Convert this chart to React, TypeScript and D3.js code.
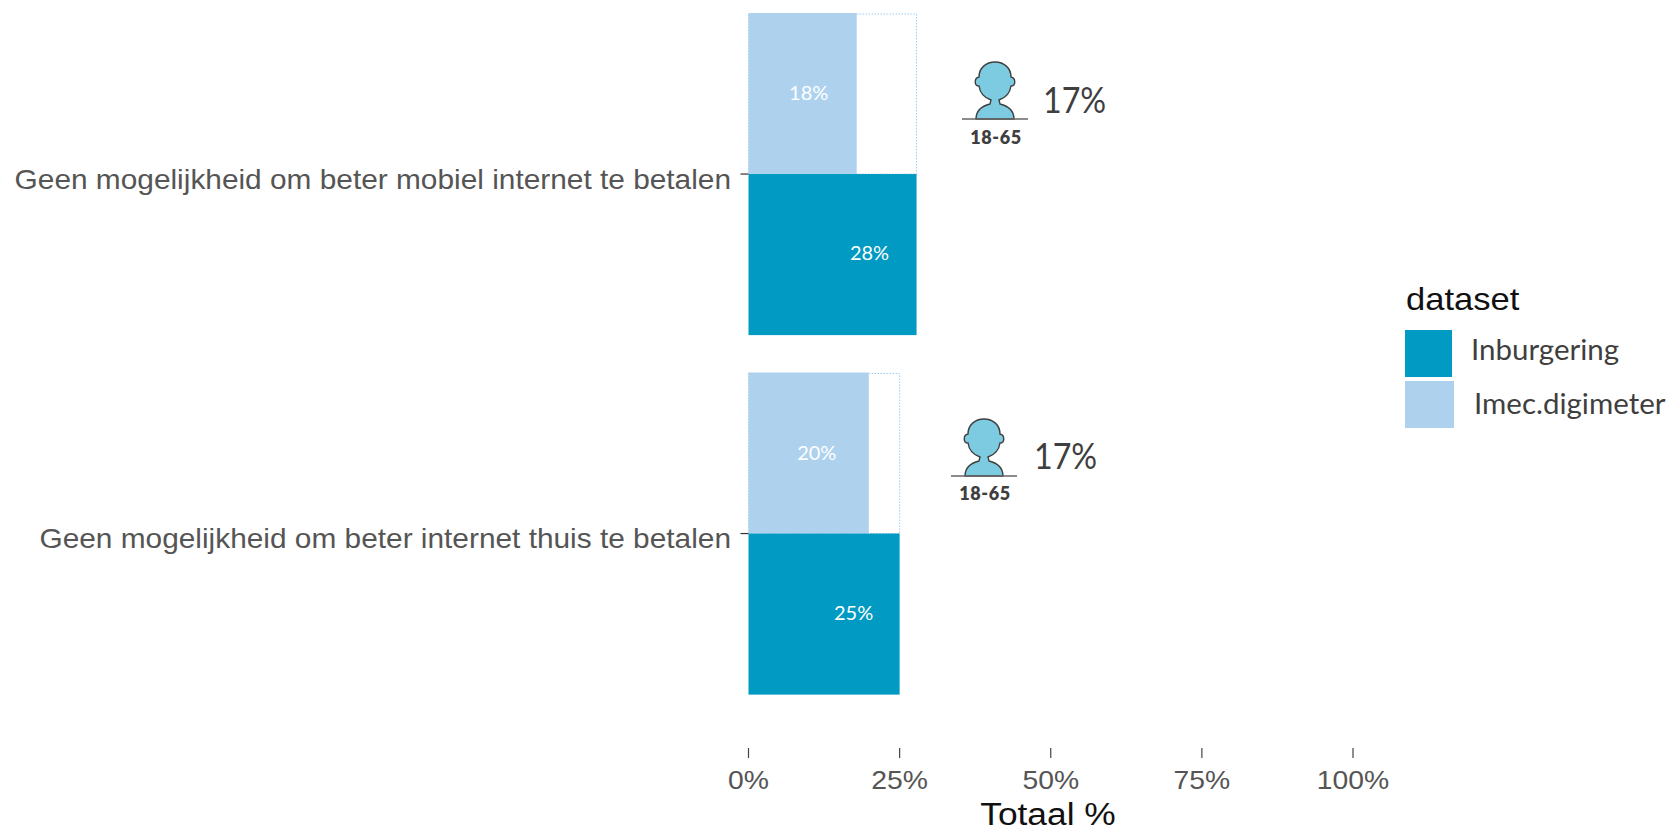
import React from "react";
import * as d3 from "d3";

const categories = [
  "Geen mogelijkheid om beter mobiel internet te betalen",
  "Geen mogelijkheid om beter internet thuis te betalen",
];
const inburgering = [27.8, 25];
const imecDigimeter = [17.9, 19.9];
const inburgeringLabels = ["28%", "25%"];
const imecLabels = ["18%", "20%"];
const referenceValues = ["17%", "17%"];
const ageGroups = ["18-65", "18-65"];
const xTicks = [0, 25, 50, 75, 100];
const legendEntries = ["Inburgering", "Imec.digimeter"];

const W = 1669, H = 831;
const DARK = "#009AC2", LIGHT = "#AED2EE", ICON = "#7DCBE0", INK = "#3F3F3F", GREY = "#555555";
const SANS = "'Liberation Sans', Arial, sans-serif";
const GILL = "Lato, sans-serif";

const x = d3.scaleLinear().domain([0, 100]).range([748.5, 1353]);
const y = d3.scaleBand<string>().domain(categories).range([-5, 712.6]).paddingInner(0.104).paddingOuter(0.05);

const iconLayout = [
  { x: 995, base: 119, age: 144, text: 1043, textBase: 113 },
  { x: 984, base: 476, age: 500, text: 1034, textBase: 469 },
];
const labelX = [[-48, -47], [-52, -46]];

const personPath = d3.path();
personPath.moveTo(-19, 0);
personPath.bezierCurveTo(-19, -8, -13, -13, -5, -15);
personPath.lineTo(-4, -19);
personPath.bezierCurveTo(-10, -21, -15, -26, -16, -33);
personPath.bezierCurveTo(-21, -33, -21, -41, -16, -42);
personPath.bezierCurveTo(-16, -51, -9, -57, 0, -57);
personPath.bezierCurveTo(9, -57, 16, -51, 16, -42);
personPath.bezierCurveTo(21, -41, 21, -33, 16, -33);
personPath.bezierCurveTo(15, -26, 10, -21, 4, -19);
personPath.lineTo(5, -15);
personPath.bezierCurveTo(13, -13, 19, -8, 19, 0);
personPath.closePath();

export default function App() {
  return (
    <svg width={W} height={H} viewBox={`0 0 ${W} ${H}`}
      style={{ position: "absolute", left: 0, top: 0, background: "#fff", display: "block" }}>
      {categories.map((c, i) => {
        const top = y(c)!;
        const bw = y.bandwidth();
        const mid = top + bw / 2;
        const ic = iconLayout[i];
        return (
          <g key={c}>
            <rect x={x(0)} y={top + 1} width={x(inburgering[i]) - x(0)} height={bw / 2 - 1}
              fill="none" stroke="#9CCBEE" strokeWidth={1} strokeDasharray="1.5 1.5" />
            <rect x={x(0)} y={top} width={x(imecDigimeter[i]) - x(0)} height={bw / 2} fill={LIGHT} />
            <rect x={x(0)} y={mid} width={x(inburgering[i]) - x(0)} height={bw / 2} fill={DARK} />
            <text x={x(imecDigimeter[i]) + labelX[i][0]} y={mid - 81} dy="0.35em" textAnchor="middle"
              fill="#fff" fontFamily={GILL} fontSize={20}>{imecLabels[i]}</text>
            <text x={x(inburgering[i]) + labelX[i][1]} y={mid + 79} dy="0.35em" textAnchor="middle"
              fill="#fff" fontFamily={GILL} fontSize={20}>{inburgeringLabels[i]}</text>
            <line x1={x(0) - 8} x2={x(0)} y1={mid} y2={mid} stroke="#333" strokeWidth={1.2} />
            <text transform={`translate(731,${mid + 5}) scale(1.085,1)`} dy="0.35em" textAnchor="end" fill={GREY}
              fontFamily={SANS} fontSize={27.5}>{c}</text>
            <g transform={`translate(${ic.x},${ic.base})`}>
              <path d={personPath.toString()} fill={ICON} stroke={INK} strokeWidth={1.4} />
              <line x1={-33} x2={33} y1={0} y2={0} stroke="#666" strokeWidth={1.5} />
            </g>
            <text x={ic.x + 1} y={ic.age} textAnchor="middle" fill={INK} fontFamily={GILL}
              fontWeight={800} fontSize={18} letterSpacing={0.6}>{ageGroups[i]}</text>
            <text transform={`translate(${ic.text},${ic.textBase}) scale(0.87,1)`} fill={INK} fontFamily={GILL} fontSize={37}>{referenceValues[i]}</text>
          </g>
        );
      })}
      {xTicks.map((t) => (
        <g key={t} transform={`translate(${x(t)},0)`}>
          <line y1={748} y2={758} stroke="#444" strokeWidth={1.2} />
          <text transform="translate(0,780) scale(1.09,1)" dy="0.35em" textAnchor="middle" fill={GREY} fontFamily={SANS} fontSize={26}>{t}%</text>
        </g>
      ))}
      <text transform="translate(1048,814) scale(1.14,1)" dy="0.35em" textAnchor="middle" fill="#111" fontFamily={SANS} fontSize={31}>Totaal %</text>

      <text transform="translate(1406,310) scale(1.08,1)" fill="#111" fontFamily={SANS} fontSize={32}>dataset</text>
      <rect x={1405} y={330} width={47} height={47} fill={DARK} />
      <rect x={1405} y={381} width={49} height={47} fill={LIGHT} />
      <text x={1471} y={360} fill={INK} fontFamily={GILL} fontSize={29.5}>{legendEntries[0]}</text>
      <text x={1474} y={414} fill={INK} fontFamily={GILL} fontSize={29.5}>{legendEntries[1]}</text>
    </svg>
  );
}
